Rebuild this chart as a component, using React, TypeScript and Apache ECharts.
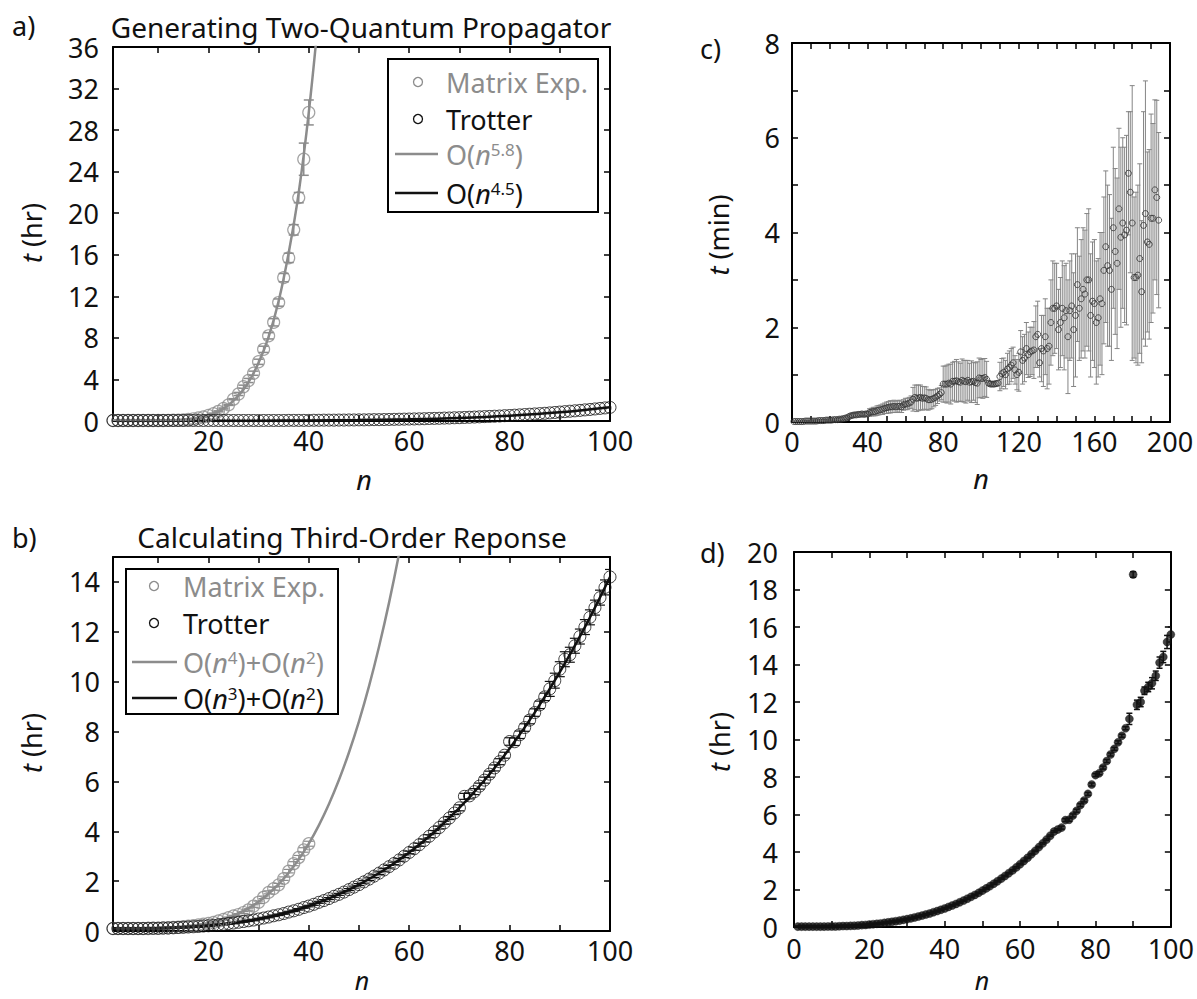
import React, { useEffect, useRef } from "react";
import * as echarts from "echarts";

const FONT = '"Noto Sans", "Open Sans", "DejaVu Sans", sans-serif';
const GREY = "#8c8c8c";
const BLACK = "#111111";
const FS = 27;

// ---------------- panel a: Generating Two-Quantum Propagator ----------------
const aMatrixT = [
  0.05, 0.05, 0.05, 0.05, 0.05, 0.05, 0.05, 0.05, 0.05, 0.05,
  0.05, 0.06, 0.07, 0.08, 0.1, 0.15, 0.21, 0.29, 0.39, 0.53,
  0.71, 0.93, 1.2, 1.55, 2.1, 2.6, 3.3, 3.9, 4.6, 5.7,
  6.9, 8.2, 9.5, 11.4, 13.8, 15.7, 18.4, 21.5, 25.2, 29.7,
];
const aMatrixErr = [
  0.05, 0.05, 0.05, 0.05, 0.05, 0.05, 0.05, 0.05, 0.05, 0.05,
  0.05, 0.05, 0.05, 0.05, 0.05, 0.05, 0.05, 0.05, 0.05, 0.05,
  0.05, 0.05, 0.05, 0.05, 0.05, 0.15, 0.15, 0.2, 0.2, 0.25,
  0.3, 0.3, 0.35, 0.35, 0.4, 0.45, 0.5, 0.5, 1.55, 1.2,
];
const aTrotterT = [
  0.05, 0.05, 0.05, 0.05, 0.05, 0.05, 0.05, 0.05, 0.05, 0.05,
  0.05, 0.05, 0.05, 0.05, 0.05, 0.05, 0.05, 0.05, 0.05, 0.05,
  0.05, 0.05, 0.05, 0.05, 0.05, 0.05, 0.05, 0.05, 0.05, 0.05,
  0.05, 0.05, 0.05, 0.05, 0.05, 0.06, 0.06, 0.06, 0.06, 0.06,
  0.07, 0.07, 0.08, 0.08, 0.08, 0.09, 0.09, 0.1, 0.1, 0.11,
  0.11, 0.12, 0.13, 0.13, 0.14, 0.15, 0.16, 0.17, 0.18, 0.19,
  0.2, 0.21, 0.22, 0.24, 0.25, 0.26, 0.28, 0.29, 0.31, 0.32,
  0.34, 0.36, 0.38, 0.4, 0.42, 0.44, 0.46, 0.48, 0.51, 0.53,
  0.56, 0.59, 0.62, 0.65, 0.68, 0.71, 0.74, 0.78, 0.82, 0.86,
  0.9, 0.94, 0.98, 1.02, 1.07, 1.11, 1.16, 1.21, 1.26, 1.31,
];
const aFit58 = [
  [1, 0], [2, 0], [4, 0], [6, 0], [8, 0.003], [10, 0.01], [12, 0.027], [14, 0.067],
  [16, 0.145], [18, 0.29], [20, 0.53], [22, 0.93], [24, 1.53], [26, 2.44], [28, 3.75],
  [30, 5.6], [32, 8.1], [34, 11.55], [36, 16.2], [38, 22], [40, 29.7], [42, 39.3],
];
const aFit45 = [
  [1, 0.03], [10, 0.03], [20, 0.03], [30, 0.035], [40, 0.05], [50, 0.085], [60, 0.16],
  [70, 0.29], [80, 0.51], [90, 0.84], [100, 1.33],
];

// ---------------- panel b: Calculating Third-Order Reponse ----------------
const bMatrixT = [
  0.1, 0.1, 0.1, 0.1, 0.1, 0.1, 0.1, 0.1, 0.11, 0.11,
  0.12, 0.13, 0.14, 0.15, 0.17, 0.19, 0.21, 0.24, 0.27, 0.3,
  0.34, 0.4, 0.46, 0.53, 0.6, 0.66, 0.74, 0.85, 1.0, 1.15,
  1.35, 1.55, 1.7, 1.85, 2.1, 2.4, 2.7, 2.95, 3.25, 3.5,
];
const bMatrixErr = [
  0.02, 0.02, 0.02, 0.02, 0.02, 0.02, 0.02, 0.02, 0.02, 0.02,
  0.02, 0.02, 0.02, 0.02, 0.02, 0.02, 0.02, 0.02, 0.02, 0.02,
  0.03, 0.03, 0.03, 0.03, 0.03, 0.04, 0.04, 0.04, 0.05, 0.05,
  0.05, 0.06, 0.06, 0.06, 0.07, 0.07, 0.08, 0.08, 0.09, 0.1,
];
const bTrotterT = [
  0.1, 0.1, 0.1, 0.1, 0.1, 0.1, 0.1, 0.11, 0.11, 0.11,
  0.12, 0.12, 0.13, 0.14, 0.15, 0.16, 0.17, 0.18, 0.2, 0.21,
  0.23, 0.25, 0.27, 0.3, 0.32, 0.35, 0.38, 0.41, 0.44, 0.48,
  0.52, 0.56, 0.61, 0.65, 0.7, 0.76, 0.81, 0.87, 0.94, 1.0,
  1.07, 1.15, 1.22, 1.3, 1.39, 1.47, 1.56, 1.66, 1.76, 1.86,
  1.97, 2.08, 2.2, 2.32, 2.45, 2.58, 2.71, 2.85, 3.0, 3.15,
  3.3, 3.46, 3.63, 3.8, 3.97, 4.15, 4.34, 4.53, 4.73, 4.94,
  5.4, 5.42, 5.59, 5.81, 6.05, 6.29, 6.54, 6.79, 7.05, 7.6,
  7.59, 7.87, 8.16, 8.46, 8.76, 9.07, 9.39, 9.71, 10.04, 10.5,
  10.9, 11.08, 11.44, 11.81, 12.19, 12.58, 12.97, 13.37, 13.78, 14.2,
];
const bTrotterErr = [
  0.03, 0.03, 0.03, 0.03, 0.03, 0.03, 0.03, 0.03, 0.03, 0.03,
  0.03, 0.03, 0.03, 0.03, 0.03, 0.03, 0.03, 0.03, 0.03, 0.03,
  0.03, 0.03, 0.03, 0.03, 0.03, 0.03, 0.03, 0.03, 0.03, 0.03,
  0.03, 0.03, 0.03, 0.03, 0.03, 0.03, 0.03, 0.03, 0.03, 0.03,
  0.04, 0.04, 0.04, 0.04, 0.04, 0.04, 0.04, 0.04, 0.04, 0.04,
  0.05, 0.05, 0.05, 0.05, 0.05, 0.05, 0.05, 0.05, 0.05, 0.05,
  0.06, 0.06, 0.06, 0.06, 0.06, 0.06, 0.06, 0.06, 0.06, 0.12,
  0.12, 0.12, 0.12, 0.12, 0.12, 0.12, 0.12, 0.12, 0.12, 0.15,
  0.15, 0.15, 0.15, 0.15, 0.15, 0.15, 0.15, 0.3, 0.3, 0.3,
  0.3, 0.3, 0.3, 0.3, 0.3, 0.3, 0.3, 0.3, 0.3, 0.3,
];
const bFitGrey = [
  [1, 0.1], [5, 0.1], [10, 0.113], [15, 0.167], [20, 0.313], [24, 0.541], [28, 0.917],
  [30, 1.177], [32, 1.495], [34, 1.877], [36, 2.334], [38, 2.873], [40, 3.505],
  [42, 4.239], [44, 5.085], [46, 6.055], [48, 7.16], [50, 8.41], [52, 9.82],
  [54, 11.41], [56, 13.18], [58, 15.15], [60, 17.34],
];
const bFitBlack = [
  [1, 0.1], [5, 0.1], [10, 0.114], [15, 0.148], [20, 0.213], [25, 0.32], [30, 0.481],
  [35, 0.705], [40, 1.002], [45, 1.385], [50, 1.863], [55, 2.446], [60, 3.146],
  [65, 3.972], [70, 4.936], [75, 6.048], [80, 7.319], [85, 8.759], [90, 10.379],
  [95, 12.189], [100, 14.2],
];

// ---------------- panel c: t (min) vs n up to 194 ----------------
const cT = [
  0.01, 0.01, 0.01, 0.01, 0.01, 0.01, 0.02, 0.02, 0.02, 0.02,
  0.02, 0.02, 0.02, 0.03, 0.03, 0.03, 0.03, 0.04, 0.04, 0.04,
  0.04, 0.05, 0.05, 0.05, 0.06, 0.06, 0.07, 0.08, 0.09, 0.11,
  0.13, 0.14, 0.15, 0.15, 0.16, 0.16, 0.17, 0.16, 0.17, 0.17,
  0.2, 0.21, 0.22, 0.22, 0.24, 0.25, 0.26, 0.27, 0.29, 0.3,
  0.31, 0.32, 0.32, 0.33, 0.32, 0.33, 0.33, 0.32, 0.36, 0.38,
  0.38, 0.4, 0.42, 0.48, 0.52, 0.5, 0.51, 0.52, 0.5, 0.51,
  0.5, 0.47, 0.47, 0.48, 0.5, 0.52, 0.55, 0.58, 0.62, 0.8,
  0.8, 0.8, 0.82, 0.8, 0.86, 0.86, 0.87, 0.85, 0.84, 0.88,
  0.86, 0.85, 0.88, 0.84, 0.85, 0.86, 0.83, 0.82, 0.93, 0.92,
  0.92, 0.94, 0.9, 0.82, 0.8, 0.8, 0.8, 0.81, 0.82, 0.96,
  1.02, 1.05, 1.0, 1.12, 1.15, 1.2, 1.25, 1.1, 1.0, 1.05,
  1.48, 1.3, 1.35, 1.55, 1.42, 1.48, 1.5, 1.52, 1.8, 1.85,
  1.25, 1.55, 1.5, 1.8, 1.55, 1.6, 2.1, 2.4, 2.4, 2.45,
  1.95, 2.1, 2.4, 2.2, 2.35, 1.8, 2.35, 2.45, 1.95, 2.25,
  2.9, 2.4, 2.6, 2.8, 2.7, 3.0, 3.0, 2.25, 2.55, 2.5,
  2.1, 2.2, 2.6, 2.5, 3.2, 3.7, 3.3, 3.2, 2.8, 4.1,
  3.6, 3.35, 4.5, 3.9, 4.2, 3.95, 4.05, 5.25, 4.85, 4.2,
  3.05, 3.05, 3.1, 3.45, 2.75, 4.15, 4.4, 3.8, 3.75, 4.3,
  4.3, 4.9, 4.74, 4.26,
];
const cErr = [
  0.01, 0.01, 0.01, 0.01, 0.01, 0.01, 0.01, 0.01, 0.01, 0.01,
  0.02, 0.02, 0.02, 0.02, 0.02, 0.02, 0.02, 0.02, 0.02, 0.02,
  0.02, 0.02, 0.02, 0.03, 0.03, 0.03, 0.03, 0.03, 0.03, 0.03,
  0.04, 0.04, 0.04, 0.04, 0.04, 0.04, 0.04, 0.04, 0.04, 0.04,
  0.08, 0.08, 0.09, 0.09, 0.1, 0.1, 0.1, 0.11, 0.11, 0.12,
  0.12, 0.13, 0.12, 0.13, 0.12, 0.12, 0.13, 0.12, 0.11, 0.12,
  0.12, 0.12, 0.13, 0.25, 0.26, 0.28, 0.27, 0.26, 0.25, 0.24,
  0.24, 0.22, 0.2, 0.2, 0.18, 0.17, 0.16, 0.14, 0.15, 0.38,
  0.38, 0.4, 0.4, 0.42, 0.4, 0.42, 0.45, 0.42, 0.4, 0.45,
  0.44, 0.45, 0.42, 0.4, 0.44, 0.4, 0.42, 0.45, 0.42, 0.4,
  0.42, 0.4, 0.38, 0.05, 0.05, 0.04, 0.05, 0.05, 0.05, 0.3,
  0.32, 0.3, 0.3, 0.33, 0.35, 0.35, 0.33, 0.3, 0.32, 0.4,
  0.45, 0.5, 0.5, 0.55, 0.48, 0.52, 0.5, 0.6, 0.65, 0.7,
  0.3, 0.7, 0.75, 0.8, 0.85, 0.8, 0.9, 1.0, 0.95, 0.9,
  0.85, 0.95, 1.0, 1.1, 1.0, 1.2, 1.05, 1.1, 1.2, 1.3,
  1.2, 1.1, 1.25, 1.3, 1.35, 1.4, 1.5, 1.3, 1.25, 1.35,
  1.3, 1.25, 1.4, 1.5, 1.55, 1.6, 1.7, 1.6, 1.5, 1.7,
  1.75, 1.8, 1.7, 1.9, 1.8, 1.85, 2.0, 1.3, 1.7, 2.9,
  1.7, 1.8, 1.9, 2.0, 1.5, 2.4, 2.8, 1.9, 2.0, 2.2,
  2.0, 1.9, 2.05, 1.85,
];

// ---------------- panel d: t (hr) vs n up to 100 ----------------
const dT = [
  0.02, 0.02, 0.02, 0.02, 0.02, 0.02, 0.02, 0.02, 0.03, 0.03,
  0.03, 0.04, 0.05, 0.05, 0.06, 0.07, 0.08, 0.1, 0.11, 0.13,
  0.15, 0.17, 0.19, 0.22, 0.25, 0.28, 0.31, 0.34, 0.38, 0.42,
  0.46, 0.51, 0.56, 0.61, 0.67, 0.72, 0.79, 0.85, 0.92, 0.99,
  1.07, 1.15, 1.23, 1.32, 1.41, 1.51, 1.61, 1.71, 1.82, 1.94,
  2.06, 2.18, 2.31, 2.44, 2.58, 2.72, 2.87, 3.02, 3.18, 3.35,
  3.52, 3.69, 3.88, 4.06, 4.26, 4.46, 4.66, 4.87, 5.09, 5.2,
  5.3, 5.7, 5.72, 5.95, 6.2, 6.5, 6.75, 7.1, 7.6, 8.1,
  8.2, 8.5, 8.85, 9.2, 9.5, 9.85, 10.2, 10.6, 11.1, 18.8,
  11.85, 12.0, 12.6, 12.8, 13.0, 13.4, 14.1, 14.4, 15.2, 15.6,
];
const dErr = [
  0.04, 0.04, 0.04, 0.04, 0.04, 0.04, 0.04, 0.04, 0.04, 0.04,
  0.04, 0.04, 0.04, 0.04, 0.04, 0.04, 0.04, 0.04, 0.04, 0.04,
  0.04, 0.04, 0.04, 0.04, 0.04, 0.04, 0.04, 0.04, 0.04, 0.04,
  0.04, 0.04, 0.04, 0.04, 0.04, 0.04, 0.04, 0.04, 0.04, 0.04,
  0.04, 0.04, 0.04, 0.04, 0.04, 0.04, 0.04, 0.04, 0.04, 0.04,
  0.04, 0.04, 0.04, 0.04, 0.04, 0.04, 0.04, 0.04, 0.04, 0.04,
  0.04, 0.04, 0.04, 0.04, 0.04, 0.04, 0.04, 0.04, 0.04, 0.04,
  0.08, 0.08, 0.08, 0.08, 0.08, 0.08, 0.08, 0.08, 0.08, 0.08,
  0.08, 0.08, 0.08, 0.08, 0.08, 0.08, 0.08, 0.08, 0.3, 0.15,
  0.25, 0.25, 0.2, 0.25, 0.3, 0.25, 0.3, 0.3, 0.35, 0.4,
];

// tick values
const abXTicks = [10, 20, 30, 40, 50, 60, 70, 80, 90, 100];
const abXLabels = [20, 40, 60, 80, 100];
const aYTicks = [0, 4, 8, 12, 16, 20, 24, 28, 32, 36];
const bYTicks = [0, 2, 4, 6, 8, 10, 12, 14];
const cXTicks = [0, 10, 20, 30, 40, 50, 60, 70, 80, 90, 100, 110, 120, 130, 140, 150, 160, 170, 180, 190, 200];
const cXLabels = [0, 40, 80, 120, 160, 200];
const cYTicks = [0, 1, 2, 3, 4, 5, 6, 7, 8];
const cYLabels = [0, 2, 4, 6, 8];
const dXTicks = [0, 10, 20, 30, 40, 50, 60, 70, 80, 90, 100];
const dXLabels = [0, 20, 40, 60, 80, 100];
const dYTicks = [0, 2, 4, 6, 8, 10, 12, 14, 16, 18, 20];

const pts = (ys: number[]) => ys.map((y, i) => [i + 1, y]);
const ptsErr = (ys: number[], es: number[]) => ys.map((y, i) => [i + 1, y, es[i]]);

const lineStyleAxis = { color: "#000", width: 2 };

function xPair(grid: number, min: number, max: number, ticks: number[], labels: number[], margin: number) {
  const base = {
    type: "value",
    gridIndex: grid,
    min,
    max,
    axisLine: { show: true, onZero: false, lineStyle: lineStyleAxis },
    axisTick: { show: true, inside: true, length: 6, lineStyle: { color: "#000", width: 1.5 }, customValues: ticks },
    splitLine: { show: false },
  };
  return [
    {
      ...base,
      position: "bottom",
      axisLabel: { show: true, customValues: labels, margin, fontSize: FS, fontFamily: FONT, color: BLACK },
    },
    { ...base, position: "top", axisLabel: { show: false } },
  ];
}

function yPair(grid: number, min: number, max: number, ticks: number[], labels: number[], margin: number) {
  const base = {
    type: "value",
    gridIndex: grid,
    min,
    max,
    axisLine: { show: true, onZero: false, lineStyle: lineStyleAxis },
    axisTick: { show: true, inside: true, length: 6, lineStyle: { color: "#000", width: 1.5 }, customValues: ticks },
    splitLine: { show: false },
  };
  return [
    {
      ...base,
      position: "left",
      axisLabel: { show: true, customValues: labels, margin, fontSize: FS, fontFamily: FONT, color: BLACK },
    },
    { ...base, position: "right", axisLabel: { show: false } },
  ];
}

function errorBars(g: number, data: number[][], color: string, cap: number, width: number) {
  return {
    type: "custom",
    xAxisIndex: 2 * g,
    yAxisIndex: 2 * g,
    data,
    encode: { x: 0, y: 1 },
    silent: true,
    clip: true,
    z: 3,
    renderItem: (_params: any, api: any) => {
      const x = api.value(0);
      const y = api.value(1);
      const e = api.value(2);
      const hi = api.coord([x, y + e]);
      const lo = api.coord([x, y - e]);
      const style = { stroke: color, lineWidth: width };
      return {
        type: "group",
        children: [
          { type: "line", shape: { x1: hi[0], y1: hi[1], x2: lo[0], y2: lo[1] }, style },
          { type: "line", shape: { x1: hi[0] - cap, y1: hi[1], x2: hi[0] + cap, y2: hi[1] }, style },
          { type: "line", shape: { x1: lo[0] - cap, y1: lo[1], x2: lo[0] + cap, y2: lo[1] }, style },
        ],
      };
    },
  };
}

function scatter(g: number, data: number[][], color: string, size: number, filled: boolean, bw = 1.2) {
  return {
    type: "scatter",
    xAxisIndex: 2 * g,
    yAxisIndex: 2 * g,
    data,
    symbol: "circle",
    symbolSize: size,
    silent: true,
    z: 4,
    itemStyle: filled
      ? { color, borderColor: color, borderWidth: 0.5 }
      : { color: "rgba(0,0,0,0)", borderColor: color, borderWidth: bw },
  };
}

function fitLine(g: number, data: number[][], color: string) {
  return {
    type: "line",
    xAxisIndex: 2 * g,
    yAxisIndex: 2 * g,
    data,
    smooth: 0.4,
    symbol: "none",
    silent: true,
    clip: true,
    z: 2,
    lineStyle: { color, width: 2.5 },
  };
}

const txt = (x: number, y: number, text: string, opts: any = {}) => ({
  type: "text",
  x,
  y,
  z: 100,
  rotation: opts.rotation || 0,
  style: {
    text,
    fontSize: opts.fontSize || FS,
    fontFamily: FONT,
    fontStyle: opts.fontStyle || "normal",
    fill: opts.fill || BLACK,
    align: opts.align || "left",
    verticalAlign: opts.verticalAlign || "middle",
    rich: opts.rich,
  },
});

const richFor = (fill: string, fs: number) => ({
  i: { fontStyle: "italic", fontSize: fs, fontFamily: FONT, fill, color: fill },
  s: { fontSize: Math.round(fs * 0.62), fontFamily: FONT, fill, color: fill, verticalAlign: "top" },
});

function legend(box: number[], rows: number[], circleX: number, lineX: number[], textX: number, labels: string[]) {
  const fs = 27;
  return [
    {
      type: "rect",
      z: 99,
      shape: { x: box[0], y: box[1], width: box[2], height: box[3] },
      style: { fill: "#fff", stroke: "#000", lineWidth: 2 },
    },
    { type: "circle", z: 100, shape: { cx: circleX, cy: rows[0], r: 4.5 }, style: { fill: "none", stroke: GREY, lineWidth: 1.3 } },
    { type: "circle", z: 100, shape: { cx: circleX, cy: rows[1], r: 4.5 }, style: { fill: "none", stroke: BLACK, lineWidth: 1.3 } },
    { type: "line", z: 100, shape: { x1: lineX[0], y1: rows[2], x2: lineX[1], y2: rows[2] }, style: { stroke: GREY, lineWidth: 2.5 } },
    { type: "line", z: 100, shape: { x1: lineX[0], y1: rows[3], x2: lineX[1], y2: rows[3] }, style: { stroke: BLACK, lineWidth: 2.5 } },
    txt(textX, rows[0], labels[0], { fill: GREY, fontSize: fs }),
    txt(textX, rows[1], labels[1], { fill: BLACK, fontSize: fs }),
    txt(textX, rows[2], labels[2], { fill: GREY, fontSize: fs, rich: richFor(GREY, fs) }),
    txt(textX, rows[3], labels[3], { fill: BLACK, fontSize: fs, rich: richFor(BLACK, fs) }),
  ];
}

export default function App() {
  const ref = useRef<HTMLDivElement>(null);

  useEffect(() => {
    if (!ref.current) return;
    const chart = echarts.init(ref.current, undefined, { renderer: "svg" });

    const xAxis = [
      ...xPair(0, 1, 100, abXTicks, abXLabels, 6),
      ...xPair(1, 1, 100, abXTicks, abXLabels, 6),
      ...xPair(2, 0, 200, cXTicks, cXLabels, 6),
      ...xPair(3, 0, 100, dXTicks, dXLabels, 8),
    ];
    const yAxis = [
      ...yPair(0, 0, 36, aYTicks, aYTicks, 14),
      ...yPair(1, 0, 15, bYTicks, bYTicks, 13),
      ...yPair(2, 0, 8, cYTicks, cYLabels, 12),
      ...yPair(3, 0, 20, dYTicks, dYTicks, 16),
    ];

    const series = [
      // a
      fitLine(0, aFit58, GREY),
      fitLine(0, aFit45, BLACK),
      errorBars(0, ptsErr(aMatrixT, aMatrixErr), GREY, 5, 1.5),
      scatter(0, pts(aMatrixT), GREY, 12, false),
      scatter(0, pts(aTrotterT), BLACK, 12, false, 1),
      // b
      fitLine(1, bFitGrey, GREY),
      fitLine(1, bFitBlack, BLACK),
      errorBars(1, ptsErr(bMatrixT, bMatrixErr), GREY, 5, 1.2),
      errorBars(1, ptsErr(bTrotterT, bTrotterErr), BLACK, 5, 1.2),
      scatter(1, pts(bMatrixT), GREY, 12, false),
      scatter(1, pts(bTrotterT), BLACK, 12, false, 1),
      // c
      errorBars(2, ptsErr(cT, cErr), "#858585", 2.5, 1),
      scatter(2, pts(cT), "#333", 6, false, 1),
      // d
      errorBars(3, ptsErr(dT, dErr), BLACK, 3, 1.5),
      scatter(3, pts(dT), BLACK, 8, true),
    ];

    const graphic = [
      txt(12, 25, "a)"),
      txt(12, 537, "b)"),
      txt(700, 48, "c)"),
      txt(700, 552, "d)"),
      txt(361, 27, "Generating Two-Quantum Propagator", { align: "center", fontSize: 28 }),
      txt(352, 537, "Calculating Third-Order Reponse", { align: "center", fontSize: 28 }),
      txt(31, 233, "{i|t} (hr)", { align: "center", rotation: Math.PI / 2, rich: richFor(BLACK, FS) }),
      txt(31, 743, "{i|t} (hr)", { align: "center", rotation: Math.PI / 2, rich: richFor(BLACK, FS) }),
      txt(718, 235, "{i|t} (min)", { align: "center", rotation: Math.PI / 2, rich: richFor(BLACK, FS) }),
      txt(719, 742, "{i|t} (hr)", { align: "center", rotation: Math.PI / 2, rich: richFor(BLACK, FS) }),
      txt(364, 479, "n", { align: "center", fontStyle: "italic" }),
      txt(362, 980, "n", { align: "center", fontStyle: "italic", fontSize: 25 }),
      txt(981, 478, "n", { align: "center", fontStyle: "italic" }),
      txt(982, 980, "n", { align: "center", fontStyle: "italic", fontSize: 25 }),
      ...legend([388, 59, 210, 153], [82, 119, 154, 193], 418, [395, 438], 446, [
        "Matrix Exp.",
        "Trotter",
        "O({i|n}{s|5.8})",
        "O({i|n}{s|4.5})",
      ]),
      ...legend([126, 569, 212, 145], [586, 623, 662, 698], 154, [132, 177], 183, [
        "Matrix Exp.",
        "Trotter",
        "O({i|n}{s|4})+O({i|n}{s|2})",
        "O({i|n}{s|3})+O({i|n}{s|2})",
      ]),
    ];

    chart.setOption({
      animation: false,
      backgroundColor: "#fff",
      textStyle: { fontFamily: FONT },
      grid: [
        { left: 113, top: 47, width: 497, height: 374 },
        { left: 113, top: 557, width: 497, height: 374 },
        { left: 792, top: 43, width: 378, height: 379 },
        { left: 794, top: 552, width: 377, height: 375 },
      ],
      xAxis,
      yAxis,
      series,
      graphic,
    });

    return () => chart.dispose();
  }, []);

  return (
    <div
      ref={ref}
      style={{ position: "absolute", left: 0, top: 0, width: 1197, height: 999, background: "#fff" }}
    />
  );
}
